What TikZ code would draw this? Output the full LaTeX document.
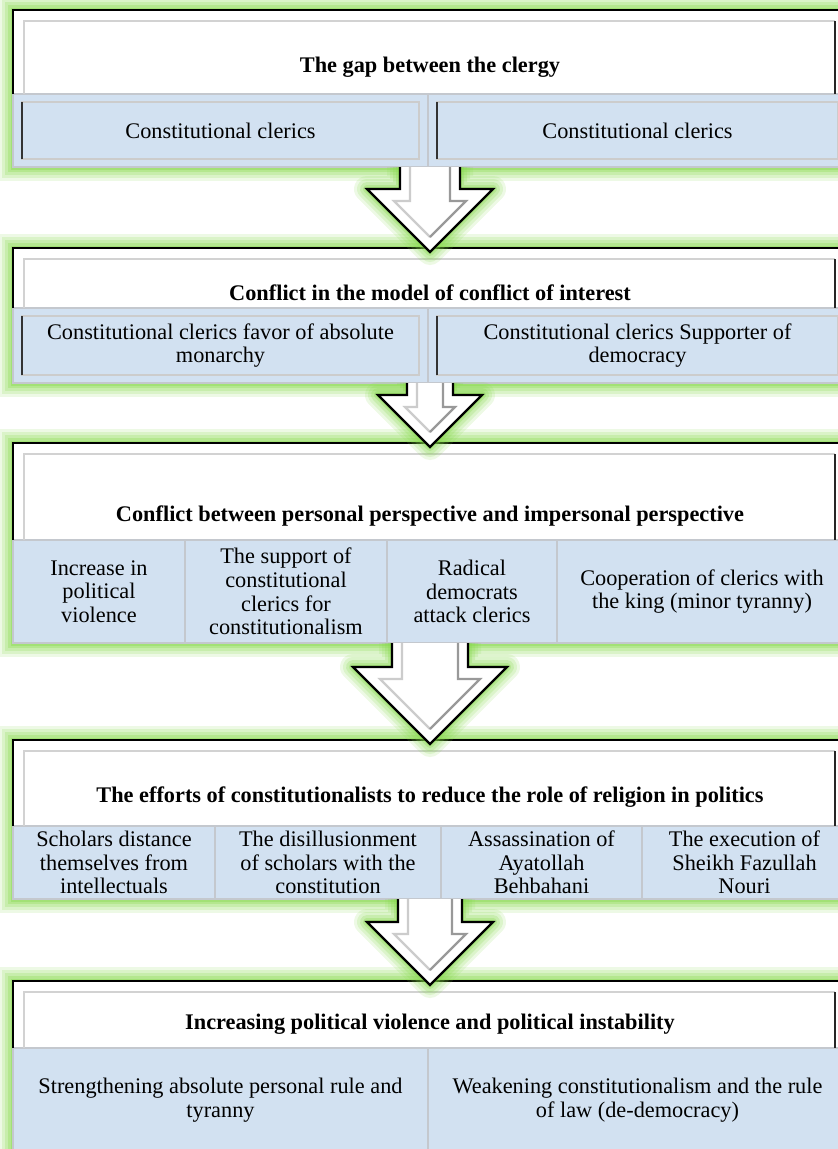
\documentclass[tikz,border=0pt]{standalone}
\usepackage[svgnames, dvipsnames]{xcolor}
\usepackage{fontspec}
\setmainfont{Liberation Serif}
\usetikzlibrary{calc, positioning}
\definecolor{glowgreen}{RGB}{130,215,70}
\definecolor{cellblue}{RGB}{210,225,241}
\definecolor{cellgrey}{RGB}{196,200,206}
\tikzset{>=latex,
  blockframe/.style={rectangle, inner sep=0, outer sep=0, anchor=north west, fill=white,
    preaction={draw=glowgreen, line width=28, opacity=.14, rounded corners=10},
    preaction={draw=glowgreen, line width=22, opacity=.18, rounded corners=8},
    preaction={draw=glowgreen, line width=16, opacity=.22, rounded corners=5},
    preaction={draw=glowgreen, line width=10, opacity=.28, rounded corners=3},
    preaction={draw=glowgreen, line width=5, opacity=.35}},
  cellbox/.style={rectangle, anchor=north west, fill=cellblue, draw=cellgrey, line width=2,
    inner sep=0, outer sep=0, align=center, font=\fontsize{22.3}{23.7}\selectfont},
  headtitle/.style={font=\fontsize{22.3}{23.7}\selectfont\bfseries},
  outeredge/.style={black, line width=2.6},
  inneredge/.style={gray!35, line width=2},
  darkedge/.style={black!85, line width=2},
  bevellight/.style={gray!40, line width=1.5},
  beveldark/.style={black!80, line width=2.2}}
% header of a block: frame, left cell, right cell
\newcommand{\blockhead}[3]{%
  \draw[outeredge] (#2.north west) |- (#1.north east);
  \draw[inneredge] ($(#2.north west)+(11,0)$) |- ($(#1.north east)+(-12,11)$);
  \draw[darkedge] ($(#1.north east)+(-12,11)$) -- ($(#3.north east)+(-12,0)$);}
\newcommand{\cellbevel}[1]{%
  \draw[bevellight] ($(#1.south west)+(9,-8)$) rectangle ($(#1.north east)+(-9,8)$);
  \draw[beveldark] ($(#1.south west)+(9,-8)$) -- ($(#1.north west)+(9,8)$);}
% block arrow from one block to the next: shaft half width, head half width
\newcommand{\flowarrow}[4]{%
  \coordinate (s) at (#1.south);
  \coordinate (e) at ($(#2.north)+(0,4)$);
  \foreach \lw/\op in {26/.14,20/.17,14/.21,8/.27,4/.35}
    \draw[glowgreen, line width=\lw, opacity=\op, line join=round]
      ($(s)+(-#3,0)$) -- ($(e)+(-#3,-#4)$) -- ($(e)+(-#4,-#4)$) -- (e)
      -- ($(e)+(#4,-#4)$) -- ($(e)+(#3,-#4)$) -- ($(s)+(#3,0)$);
  \fill[white] ($(s)+(-#3,0)$) -- ($(e)+(-#3,-#4)$) -- ($(e)+(-#4,-#4)$) -- (e)
      -- ($(e)+(#4,-#4)$) -- ($(e)+(#3,-#4)$) -- ($(s)+(#3,0)$) -- cycle;
  \draw[black, line width=2.2, line join=miter] ($(s)+(-#3,0)$) -- ($(e)+(-#3,-#4)$)
      -- ($(e)+(-#4,-#4)$) -- (e) -- ($(e)+(#4,-#4)$) -- ($(e)+(#3,-#4)$) -- ($(s)+(#3,0)$);
  \draw[gray!40, line width=2.2] ($(s)+(-#3+10,0)$) -- ($(e)+(-#3+10,-#4+12)$)
      -- ($(e)+(-#4+27,-#4+12)$) -- ($(e)+(0,-15)$);
  \draw[gray!80, line width=2.2] ($(e)+(0,-15)$) -- ($(e)+(#4-27,-#4+12)$)
      -- ($(e)+(#3-10,-#4+12)$) -- ($(s)+(#3-10,0)$);}

\begin{document}
\begin{tikzpicture}[x=1pt, y=-1pt]
    \useasboundingbox (0,0) rectangle (838,1149);
    % block 1
    \node[blockframe, minimum width=834, minimum height=157] (blk1) at (13,10) {};
    \node[cellbox, minimum width=415, minimum height=73] (c11) at (13,94) {Constitutional clerics};
    \node[cellbox, minimum width=419, minimum height=73] (c12) at (428,94) {Constitutional clerics};
    \node[headtitle] (t1) at (430,67) {The gap between the clergy};
    \blockhead{blk1}{c11}{c12}
    \cellbevel{c11} \cellbevel{c12}
    % block 2
    \node[blockframe, minimum width=834, minimum height=135] (blk2) at (13,248) {};
    \node[cellbox, minimum width=415, minimum height=75] (c21) at (13,308) {Constitutional clerics favor of absolute\\monarchy};
    \node[cellbox, minimum width=419, minimum height=75] (c22) at (428,308) {Constitutional clerics Supporter of\\democracy};
    \node[headtitle] (t2) at (430,293) {Conflict in the model of conflict of interest};
    \blockhead{blk2}{c21}{c22}
    \cellbevel{c21} \cellbevel{c22}
    % block 3
    \node[blockframe, minimum width=834, minimum height=200] (blk3) at (13,443) {};
    \node[cellbox, minimum width=172, minimum height=103] (c31) at (13,540) {Increase in\\political\\violence};
    \node[cellbox, minimum width=202, minimum height=103] (c32) at (185,540) {The support of\\constitutional\\clerics for\\constitutionalism};
    \node[cellbox, minimum width=170, minimum height=103] (c33) at (387,540) {Radical\\democrats\\attack clerics};
    \node[cellbox, minimum width=290, minimum height=103] (c34) at (557,540) {Cooperation of clerics with\\the king (minor tyranny)};
    \node[headtitle] (t3) at (430,516) {Conflict between personal perspective and impersonal perspective};
    \blockhead{blk3}{c31}{c34}
    % block 4
    \node[blockframe, minimum width=834, minimum height=159] (blk4) at (13,740) {};
    \node[cellbox, minimum width=202, minimum height=73] (c41) at (13,826) {Scholars distance\\themselves from\\intellectuals};
    \node[cellbox, minimum width=226, minimum height=73] (c42) at (215,826) {The disillusionment\\of scholars with the\\constitution};
    \node[cellbox, minimum width=201, minimum height=73] (c43) at (441,826) {Assassination of\\Ayatollah\\Behbahani};
    \node[cellbox, minimum width=205, minimum height=73] (c44) at (642,826) {The execution of\\Sheikh Fazullah\\Nouri};
    \node[headtitle] (t4) at (430,797) {The efforts of constitutionalists to reduce the role of religion in politics};
    \blockhead{blk4}{c41}{c44}
    % block 5
    \node[blockframe, minimum width=834, minimum height=171] (blk5) at (13,981) {};
    \node[cellbox, minimum width=415, minimum height=104] (c51) at (13,1048) {Strengthening absolute personal rule and\\tyranny};
    \node[cellbox, minimum width=419, minimum height=104] (c52) at (428,1048) {Weakening constitutionalism and the rule\\of law (de-democracy)};
    \node[headtitle] (t5) at (430,1024) {Increasing political violence and political instability};
    \blockhead{blk5}{c51}{c52}
    % arrows between the blocks
    \flowarrow{blk1}{blk2}{30}{63}
    \flowarrow{blk2}{blk3}{23}{52}
    \flowarrow{blk3}{blk4}{38}{77}
    \flowarrow{blk4}{blk5}{32}{63}
\end{tikzpicture}
\end{document}
